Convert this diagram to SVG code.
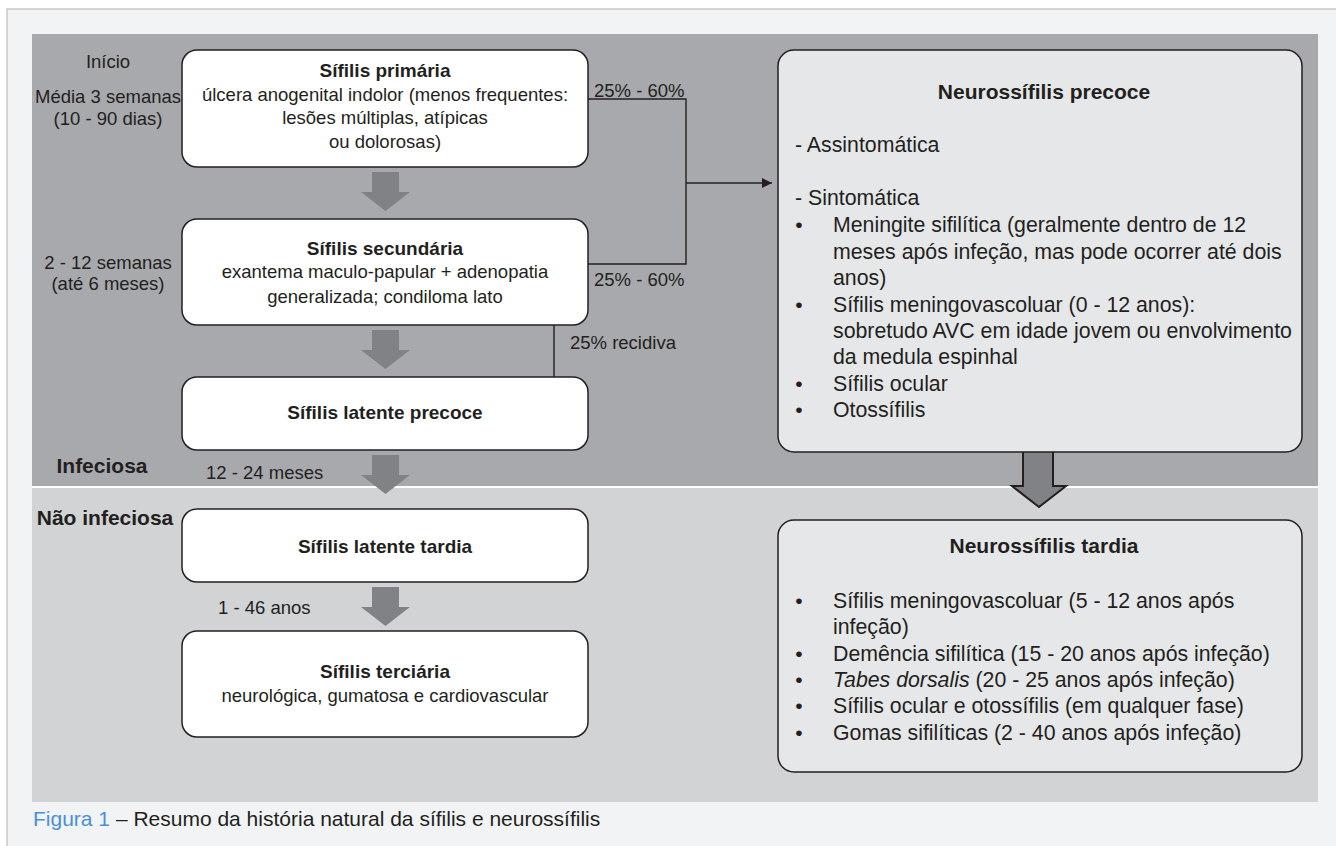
<svg xmlns="http://www.w3.org/2000/svg" width="1336" height="846" viewBox="0 0 1336 846">
<style>
  text { font-family: "Liberation Sans", Arial, Helvetica, sans-serif; fill: #231f20; }
  .lab { font-size: 18.5px; text-anchor: middle; }
  .labl { font-size: 18.5px; }
  .zone { font-size: 21px; font-weight: bold; text-anchor: middle; }
  .bt { font-size: 19px; font-weight: bold; text-anchor: middle; }
  .bb { font-size: 18.5px; text-anchor: middle; }
  .rt { font-size: 21px; font-weight: bold; text-anchor: middle; }
  .rb { font-size: 21.3px; }
  .bul { font-size: 21px; text-anchor: middle; }
  .cap { font-size: 21px; }
  .box { fill: #ffffff; stroke: #231f20; stroke-width: 1.5; }
  .rbox { fill: #e6e7e8; stroke: #231f20; stroke-width: 1.5; }
  .conn { fill: none; stroke: #231f20; stroke-width: 1.4; }
  .garrow { fill: #808285; }
</style>
<defs>
  <path id="darrow" d="M -13.5 0 H 13.5 V 20 H 24.5 L 0 39 L -24.5 20 H -13.5 Z"/>
  <marker id="ah" viewBox="0 0 10 10" refX="10" refY="5" markerWidth="10" markerHeight="10" markerUnits="userSpaceOnUse" orient="auto">
    <path d="M0 0 L10 5 L0 10 Z" fill="#231f20"/>
  </marker>
</defs>

<rect x="0" y="0" width="1336" height="846" fill="#ffffff"/>
<rect x="7" y="9" width="1340" height="850" fill="#f2f3f5" stroke="#c6c7c9" stroke-width="1.5"/>
<rect x="32" y="34" width="1286" height="452" fill="#a7a9ac"/>
<rect x="32" y="486" width="1286" height="2" fill="#ffffff"/>
<rect x="32" y="488" width="1286" height="314" fill="#d1d3d4"/>

<g id="labels">
  <text class="lab" x="108" y="68">Início</text>
  <text class="lab" x="108" y="103">Média 3 semanas</text>
  <text class="lab" x="108" y="125">(10 - 90 dias)</text>
  <text class="lab" x="108" y="269">2 - 12 semanas</text>
  <text class="lab" x="108" y="290">(até 6 meses)</text>
  <text class="zone" x="102" y="473">Infeciosa</text>
  <text class="labl" x="206" y="479">12 - 24 meses</text>
  <text class="zone" x="105" y="525">Não infeciosa</text>
  <text class="labl" x="218" y="614">1 - 46 anos</text>
</g>

<g id="connectors">
  <polyline class="conn" points="588,99 686,99 686,264 588,264"/>
  <line class="conn" x1="686" y1="183" x2="772" y2="183" marker-end="url(#ah)"/>
  <line class="conn" x1="554" y1="325" x2="554" y2="377"/>
  <text class="labl" x="594" y="97">25% - 60%</text>
  <text class="labl" x="594" y="286">25% - 60%</text>
  <text class="labl" x="570" y="349">25% recidiva</text>
  <use href="#darrow" class="garrow" transform="translate(385.5,172)"/>
  <use href="#darrow" class="garrow" transform="translate(385.5,330)"/>
  <use href="#darrow" class="garrow" transform="translate(385.5,455)"/>
  <use href="#darrow" class="garrow" transform="translate(385.5,587)"/>
  <path d="M1023 452 V486 H1012 L1039 507 L1066 486 H1053 V452" fill="#808285" stroke="#231f20" stroke-width="2" stroke-linejoin="miter"/>
</g>

<g id="sifilis-primaria">
  <rect class="box" x="182" y="50" width="406" height="117" rx="15"/>
  <text class="bt" x="385" y="77">Sífilis primária</text>
  <text class="bb" x="385" y="101">úlcera anogenital indolor (menos frequentes:</text>
  <text class="bb" x="385" y="124">lesões múltiplas, atípicas</text>
  <text class="bb" x="385" y="148">ou dolorosas)</text>
</g>

<g id="sifilis-secundaria">
  <rect class="box" x="182" y="219" width="406" height="106" rx="15"/>
  <text class="bt" x="385" y="255">Sífilis secundária</text>
  <text class="bb" x="385" y="278">exantema maculo-papular + adenopatia</text>
  <text class="bb" x="385" y="303">generalizada; condiloma lato</text>
</g>

<g id="sifilis-latente-precoce">
  <rect class="box" x="182" y="377" width="406" height="73" rx="15"/>
  <text class="bt" x="385" y="419">Sífilis latente precoce</text>
</g>

<g id="sifilis-latente-tardia">
  <rect class="box" x="182" y="509" width="406" height="73" rx="15"/>
  <text class="bt" x="385" y="553">Sífilis latente tardia</text>
</g>

<g id="sifilis-terciaria">
  <rect class="box" x="182" y="631" width="406" height="106" rx="15"/>
  <text class="bt" x="385" y="678">Sífilis terciária</text>
  <text class="bb" x="385" y="702">neurológica, gumatosa e cardiovascular</text>
</g>

<g id="neurossifilis-precoce">
  <rect class="rbox" x="778" y="50" width="524" height="402" rx="16"/>
  <text class="rt" x="1044" y="99">Neurossífilis precoce</text>
  <text class="rb" x="795" y="152">- Assintomática</text>
  <text class="rb" x="795" y="205">- Sintomática</text>
  <text class="bul" x="799" y="232">•</text>
  <text class="rb" x="833" y="232">Meningite sifilítica (geralmente dentro de 12</text>
  <text class="rb" x="833" y="259">meses após infeção, mas pode ocorrer até dois</text>
  <text class="rb" x="833" y="285">anos)</text>
  <text class="bul" x="799" y="312">•</text>
  <text class="rb" x="833" y="312">Sífilis meningovascoluar (0 - 12 anos):</text>
  <text class="rb" x="833" y="338">sobretudo AVC em idade jovem ou envolvimento</text>
  <text class="rb" x="833" y="364">da medula espinhal</text>
  <text class="bul" x="799" y="391">•</text>
  <text class="rb" x="833" y="391">Sífilis ocular</text>
  <text class="bul" x="799" y="417">•</text>
  <text class="rb" x="833" y="417">Otossífilis</text>
</g>

<g id="neurossifilis-tardia">
  <rect class="rbox" x="778" y="520" width="524" height="252" rx="16"/>
  <text class="rt" x="1044" y="553">Neurossífilis tardia</text>
  <text class="bul" x="799" y="608">•</text>
  <text class="rb" x="833" y="608">Sífilis meningovascoluar (5 - 12 anos após</text>
  <text class="rb" x="833" y="634">infeção)</text>
  <text class="bul" x="799" y="661">•</text>
  <text class="rb" x="833" y="661">Demência sifilítica (15 - 20 anos após infeção)</text>
  <text class="bul" x="799" y="687">•</text>
  <text class="rb" x="833" y="687"><tspan font-style="italic">Tabes dorsalis</tspan> (20 - 25 anos após infeção)</text>
  <text class="bul" x="799" y="713">•</text>
  <text class="rb" x="833" y="713">Sífilis ocular e otossífilis (em qualquer fase)</text>
  <text class="bul" x="799" y="740">•</text>
  <text class="rb" x="833" y="740">Gomas sifilíticas (2 - 40 anos após infeção)</text>
</g>

<g id="caption">
  <text class="cap" x="33" y="826"><tspan fill="#4a90d9">Figura 1</tspan> – Resumo da história natural da sífilis e neurossífilis</text>
</g>
</svg>
